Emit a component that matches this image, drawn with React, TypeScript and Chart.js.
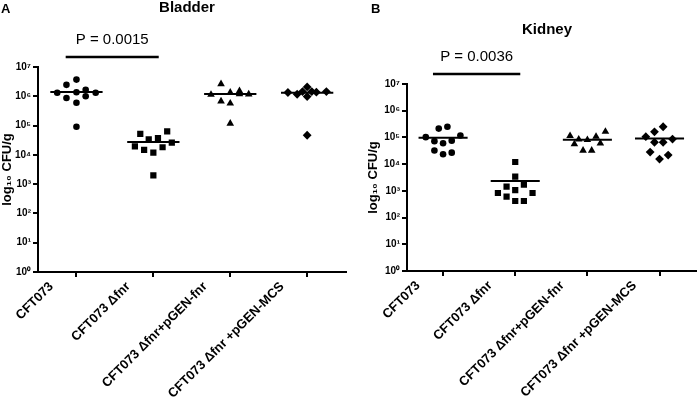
import React, { useEffect, useRef } from "react";
import { Chart, registerables } from "chart.js";
Chart.register(...registerables);

const FONT = "'Liberation Sans', Arial, Helvetica, sans-serif";

const categories = ["CFT073", "CFT073 Δfnr", "CFT073 Δfnr+pGEN-fnr", "CFT073 Δfnr +pGEN-MCS"];
const yTickLabels = ["10⁰", "10¹", "10²", "10³", "10⁴", "10⁵", "10⁶", "10⁷"];
const yTitle = "log₁₀ CFU/g";
const pointStyles = ["circle", "rect", "triangle", "rectRot"];

// Bladder, log10 CFU/g per mouse, with horizontal scatter offsets (category units)
const bladderWT = [6.39, 6.57, 6.12, 6.14, 6.22, 6.12, 5.94, 6.0, 5.78, 4.96];
const bladderWTJitter = [-0.13, 0, -0.25, 0, 0.12, 0.25, -0.13, 0.12, 0, 0];
const bladderFnr = [4.72, 4.8, 4.53, 4.57, 4.29, 4.42, 4.17, 4.08, 4.26, 3.3];
const bladderFnrJitter = [-0.17, 0.18, -0.06, 0.06, -0.24, 0.24, -0.12, 0, 0.12, 0];
const bladderComp = [6.42, 6.06, 6.13, 6.18, 6.08, 6.07, 5.83, 5.76, 5.07];
const bladderCompJitter = [-0.12, -0.25, 0, 0.12, 0.12, 0.24, -0.12, 0, 0];
const bladderMCS = [6.13, 6.07, 6.16, 6.32, 6.16, 6.14, 5.99, 6.16, 4.67];
const bladderMCSJitter = [-0.25, -0.13, -0.06, 0, 0.06, 0.12, 0, 0.25, 0];
const bladderMedians = [6.15, 4.44, 6.08, 6.12];
const bladderP = "P = 0.0015";

// Kidney
const kidneyWT = [5.01, 5.33, 5.4, 4.86, 4.78, 4.88, 5.07, 4.51, 4.37, 4.43];
const kidneyWTJitter = [-0.24, -0.06, 0.06, -0.12, 0, 0.12, 0.24, -0.12, 0, 0.12];
const kidneyFnr = [4.08, 3.53, 3.16, 3.23, 3.03, 2.92, 2.92, 2.78, 2.62, 2.62];
const kidneyFnrJitter = [0, 0, -0.12, 0.12, 0, -0.24, 0.24, -0.12, 0, 0.12];
const kidneyComp = [5.06, 4.93, 4.91, 5.03, 5.22, 4.75, 4.78, 4.51, 4.51];
const kidneyCompJitter = [-0.24, -0.12, 0, 0.12, 0.25, -0.18, 0.18, -0.06, 0.06];
const kidneyMCS = [5.03, 5.21, 5.4, 4.82, 4.82, 4.94, 4.45, 4.34, 4.19];
const kidneyMCSJitter = [-0.19, -0.07, 0.05, -0.07, 0.05, 0.18, -0.13, 0.12, 0];
const kidneyMedians = [4.99, 3.37, 4.91, 4.96];
const kidneyP = "P = 0.0036";

type Panel = {
  letter: string;
  letterX: number;
  title: string;
  titleX: number;
  titleY: number;
  pText: string;
  groups: number[][];
  jitters: number[][];
  medians: number[];
  padTop: number;
  padLeft: number;
  padRight: number;
  yWidth: number;
  xHeight: number;
};

const panels: Panel[] = [
  {
    letter: "A", letterX: 1, title: "Bladder", titleX: 187, titleY: 8, pText: bladderP,
    groups: [bladderWT, bladderFnr, bladderComp, bladderMCS],
    jitters: [bladderWTJitter, bladderFnrJitter, bladderCompJitter, bladderMCSJitter],
    medians: bladderMedians,
    padTop: 67, padLeft: 0, padRight: 3, yWidth: 38, xHeight: 129,
  },
  {
    letter: "B", letterX: 21, title: "Kidney", titleX: 197, titleY: 30, pText: kidneyP,
    groups: [kidneyWT, kidneyFnr, kidneyComp, kidneyMCS],
    jitters: [kidneyWTJitter, kidneyFnrJitter, kidneyCompJitter, kidneyMCSJitter],
    medians: kidneyMedians,
    padTop: 84, padLeft: 16, padRight: 0, yWidth: 41, xHeight: 130,
  },
];

const radiusFor: Record<string, number> = { circle: 3.3, rect: 4.4, triangle: 4.4, rectRot: 4.4 };

function PanelChart({ p }: { p: Panel }) {
  const ref = useRef<HTMLCanvasElement | null>(null);
  useEffect(() => {
    if (!ref.current) return;
    const datasets: any[] = [];
    p.groups.forEach((vals, i) => {
      datasets.push({
        data: vals.map((v, k) => ({ x: i + p.jitters[i][k], y: v })),
        pointStyle: pointStyles[i],
        pointRadius: radiusFor[pointStyles[i]],
        backgroundColor: "#000",
        borderColor: "#000",
        borderWidth: 0,
        showLine: false,
      });
    });
    p.medians.forEach((m, i) => {
      datasets.push({
        data: [{ x: i - 0.34, y: m }, { x: i + 0.34, y: m }],
        showLine: true,
        borderColor: "#000",
        borderWidth: 2,
        pointRadius: 0,
      });
    });
    const annot = {
      id: "annot",
      afterDraw(chart: any) {
        const ctx = chart.ctx;
        const xs = chart.scales.x;
        const top = chart.chartArea.top;
        ctx.save();
        ctx.fillStyle = "#000";
        ctx.strokeStyle = "#000";
        ctx.textBaseline = "middle";
        ctx.font = `bold 13px ${FONT}`;
        ctx.textAlign = "left";
        ctx.fillText(p.letter, p.letterX, 9);
        ctx.font = `bold 15px ${FONT}`;
        ctx.textAlign = "center";
        ctx.fillText(p.title, p.titleX, p.titleY);
        const x0 = xs.getPixelForValue(-0.14);
        const x1 = xs.getPixelForValue(1.07);
        ctx.lineWidth = 2.5;
        ctx.beginPath();
        ctx.moveTo(x0, top - 10);
        ctx.lineTo(x1, top - 10);
        ctx.stroke();
        ctx.font = `15px ${FONT}`;
        ctx.fillText(p.pText, (x0 + x1) / 2, top - 27);
        ctx.restore();
      },
    };
    const axisGrid = { drawOnChartArea: false, drawTicks: true, tickLength: 5, color: "#000", lineWidth: 2 };
    const axisBorder = { display: true, color: "#000", width: 2 };
    const chart = new Chart(ref.current, {
      type: "scatter",
      data: { datasets },
      plugins: [annot],
      options: {
        animation: false,
        responsive: false,
        events: [],
        layout: { padding: { top: p.padTop, left: p.padLeft, right: p.padRight, bottom: 0 } },
        plugins: { legend: { display: false }, tooltip: { enabled: false } },
        scales: {
          x: {
            type: "linear",
            min: -0.5,
            max: 3.5,
            afterBuildTicks: (s: any) => { s.ticks = categories.map((_, i) => ({ value: i })); },
            afterFit: (s: any) => { s.height = p.xHeight; },
            ticks: {
              autoSkip: false,
              minRotation: 45,
              maxRotation: 45,
              padding: 2,
              labelOffset: -25,
              color: "#000",
              font: { family: FONT, size: 13, weight: "bold" },
              callback: (v: any) => categories[Math.round(Number(v))] ?? "",
            },
            grid: axisGrid,
            border: axisBorder,
          },
          y: {
            type: "linear",
            min: 0,
            max: 7,
            afterBuildTicks: (s: any) => { s.ticks = yTickLabels.map((_, i) => ({ value: i })); },
            afterFit: (s: any) => { s.width = p.yWidth; },
            ticks: {
              padding: 2,
              color: "#000",
              font: { family: FONT, size: 10, weight: "bold" },
              callback: (v: any) => yTickLabels[Math.round(Number(v))] ?? "",
            },
            grid: axisGrid,
            border: axisBorder,
            title: {
              display: true,
              text: yTitle,
              color: "#000",
              padding: 0,
              font: { family: FONT, size: 13, weight: "bold" },
            },
          },
        },
      } as any,
    });
    return () => chart.destroy();
  }, [p]);
  return <canvas ref={ref} width={350} height={401} style={{ width: 350, height: 401, display: "block" }} />;
}

export default function App() {
  return (
    <div style={{ position: "absolute", left: 0, top: 0, width: 700, height: 401, display: "flex", background: "#fff" }}>
      {panels.map((p) => (
        <PanelChart key={p.letter} p={p} />
      ))}
    </div>
  );
}
